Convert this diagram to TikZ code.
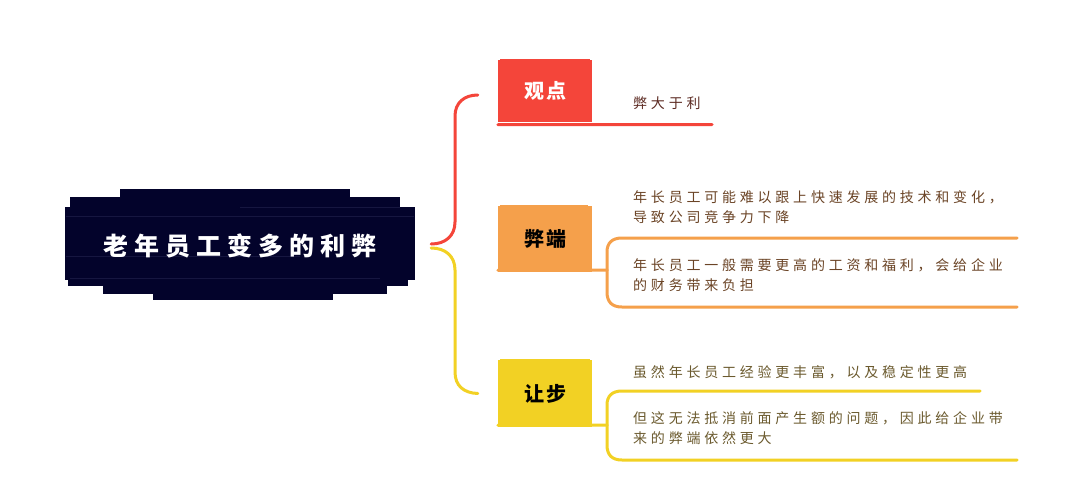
\documentclass[tikz,border=0pt]{standalone}
\usepackage{fontspec}
\setmainfont{Noto Sans CJK SC}
\newfontfamily\rootfont[LetterSpace=24]{Noto Sans CJK SC}
\newfontfamily\boxfont[LetterSpace=10]{Noto Sans CJK SC}
\newfontfamily\leaffont[LetterSpace=27]{Noto Sans CJK SC}
\usetikzlibrary{calc}
\definecolor{navy}{HTML}{03032B}
\definecolor{navyhi}{HTML}{2A2A55}
\definecolor{cred}{HTML}{F4453A}
\definecolor{corange}{HTML}{F5A04B}
\definecolor{cyellow}{HTML}{F2D124}
\definecolor{tmaroon}{HTML}{5C2A22}
\definecolor{tbrown}{HTML}{6B4426}
\definecolor{tolive}{HTML}{6B5A2E}
\tikzset{
  roottext/.style={font=\rootfont\bfseries\fontsize{25}{28}\selectfont, text=white, minimum width=382pt, inner sep=0pt},
  topicbox/.style={minimum width=94pt, minimum height=64pt, inner sep=0pt, font=\boxfont\bfseries\fontsize{20}{24}\selectfont},
  leaf/.style={anchor=west, align=left, inner sep=0pt, font=\leaffont\fontsize{14}{20}\selectfont},
  conn/.style={line width=3pt, line cap=round},
  streak/.style={line width=0.7pt, navyhi, opacity=0.5},
}
\begin{document}
\begin{tikzpicture}[x=1pt,y=-1pt]
\useasboundingbox (0,0) rectangle (1080,483);
\fill[white] (0,0) rectangle (1080,483);
% root brush
\fill[navy] (120,189) rectangle (350,200);
\fill[navy] (70,197) rectangle (400,210);
\fill[navy] (65,207) rectangle (415,280);
\fill[navy] (68,278) rectangle (408,286);
\fill[navy] (103,284) rectangle (387,294);
\fill[navy] (153,292) rectangle (333,300);
\draw[streak] (240,207.5) -- (400,207.5);
\draw[streak] (66,216.5) -- (414,216.5);
\draw[streak] (66,256) -- (300,256);
\draw[streak] (70,278.5) -- (380,278.5);
\node[roottext] (root) at (240,246) {老年员工变多的利弊};

% topic boxes
\node[topicbox, fill=cred, text=white, minimum height=62pt] (gd) at (545,91) {观点};
\node[topicbox, fill=corange, text=black, minimum height=66pt] (bd) at (545,239) {弊端};
\node[topicbox, fill=cyellow, text=black, minimum height=67pt] (rb) at (545,393.5) {让步};
% brush ragged edges
\fill[cred] (500,59) rectangle (590,61);
\fill[corange] (500,205) rectangle (588,207);
\fill[cyellow] (500,359) rectangle (590,361);

% main connectors
\coordinate (rs) at ($(root.east)+(0,-2)$);
\coordinate (ys) at ($(root.east)+(0,2)$);
\coordinate (gdin) at ($(gd.west)+(-20,4)$);
\coordinate (rbin) at ($(rb.west)+(-20,0)$);
\draw[conn, cred] (rs) .. controls ($(rs)+(14,0)$) and (455,236) .. (455,222)
  -- (455,116) .. controls (455,103) and (464,95) .. (gdin);
\draw[conn, cyellow] (ys) .. controls ($(ys)+(14,0)$) and (455,256) .. (455,270)
  -- (455,372) .. controls (455,386) and (464,393) .. (rbin);

% leaves
\node[leaf, text=tmaroon] (l1) at (633,103) {弊大于利};
\node[leaf, text=tbrown] (l2) at (633,207) {年长员工可能难以跟上快速发展的技术和变化，\\导致公司竞争力下降};
\node[leaf, text=tbrown] (l3) at (633,275) {年长员工一般需要更高的工资和福利，会给企业\\的财务带来负担};
\node[leaf, text=tolive] (l4) at (633,372) {虽然年长员工经验更丰富，以及稳定性更高};
\node[leaf, text=tolive] (l5) at (633,428.5) {但这无法抵消前面产生额的问题，因此给企业带\\来的弊端依然更大};

% underline of 观点
\coordinate (gdend) at (712,124.5);
\draw[conn, cred] (gd.south west) ++(0,2.5) -- (gdend);

% 弊端 bracket
\coordinate (bdj) at (607,270);
\coordinate (bdtop) at (1017,238);
\coordinate (bdbot) at (1017,307);
\draw[conn, corange] ($(bd.south west)+(0,-2)$) -- (bdj);
\draw[conn, corange] (bdj) -- (607,252) .. controls (607,243) and (612,238) .. (622,238) -- (bdtop);
\draw[conn, corange] (bdj) -- (607,292) .. controls (607,302) and (612,307) .. (622,307) -- (bdbot);

% 让步 bracket
\coordinate (rbj) at (607,425);
\coordinate (rbtop) at (980,391);
\coordinate (rbbot) at (1017,460);
\draw[conn, cyellow] ($(rb.south west)+(0,-2)$) -- (rbj);
\draw[conn, cyellow] (rbj) -- (607,405) .. controls (607,396) and (612,391) .. (622,391) -- (rbtop);
\draw[conn, cyellow] (rbj) -- (607,445) .. controls (607,455) and (612,460) .. (622,460) -- (rbbot);
\end{tikzpicture}
\end{document}
